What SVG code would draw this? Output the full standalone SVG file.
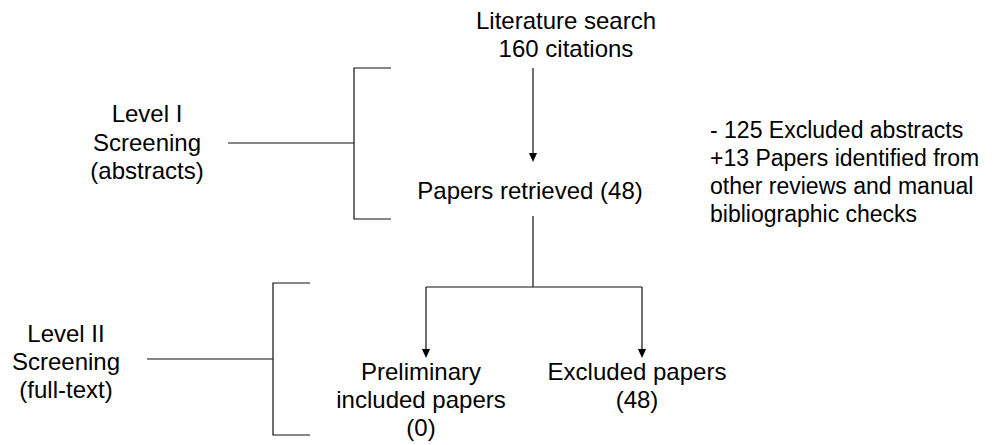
<svg xmlns="http://www.w3.org/2000/svg" width="1000" height="445" viewBox="0 0 1000 445">
  <style>
    text { font-family: "Liberation Sans", Arial, sans-serif; font-size: 24px; fill: #000; }
    .c { text-anchor: middle; }
    .side { font-size: 23px; }
    .ln { stroke: #111; stroke-width: 1.2; fill: none; }
    .head { fill: #000; }
  </style>

  <!-- connectors: brackets, stems and arrowheads -->
  <g id="connectors">
    <!-- level I bracket -->
    <path class="ln" d="M391,68 H354 V219 H391"/>
    <line class="ln" x1="228" y1="143" x2="354" y2="143"/>
    <!-- level II bracket -->
    <path class="ln" d="M310,283 H273 V435 H310"/>
    <line class="ln" x1="147" y1="359" x2="273" y2="359"/>
    <!-- search to retrieved -->
    <line class="ln" x1="533" y1="68" x2="533" y2="153"/>
    <path class="head" d="M529,153 H537 L533,162 Z"/>
    <!-- retrieved split -->
    <path class="ln" d="M533,216 V287 M426,287 H642 M426,287 V349 M642,287 V349"/>
    <path class="head" d="M422,349 H430 L426,358 Z"/>
    <path class="head" d="M638,349 H646 L642,358 Z"/>
  </g>

  <g id="level1">
    <text class="c" x="147" y="122">Level I</text>
    <text class="c" x="147" y="151">Screening</text>
    <text class="c" x="147" y="179">(abstracts)</text>
  </g>

  <g id="level2">
    <text class="c" x="66" y="342">Level II</text>
    <text class="c" x="66" y="370">Screening</text>
    <text class="c" x="66" y="398">(full-text)</text>
  </g>

  <g id="search">
    <text class="c" x="566" y="29">Literature search</text>
    <text class="c" x="566" y="57">160 citations</text>
  </g>

  <g id="retrieved">
    <text class="c" x="530" y="199">Papers retrieved (48)</text>
  </g>

  <g id="adjustments">
    <text class="side" x="710" y="138">- 125 Excluded abstracts</text>
    <text class="side" x="710" y="166">+13 Papers identified from</text>
    <text class="side" x="710" y="194">other reviews and manual</text>
    <text class="side" x="710" y="222">bibliographic checks</text>
  </g>

  <g id="included">
    <text class="c" x="421" y="380">Preliminary</text>
    <text class="c" x="421" y="408">included papers</text>
    <text class="c" x="421" y="436">(0)</text>
  </g>

  <g id="excluded">
    <text class="c" x="637" y="380">Excluded papers</text>
    <text class="c" x="637" y="408">(48)</text>
  </g>
</svg>
